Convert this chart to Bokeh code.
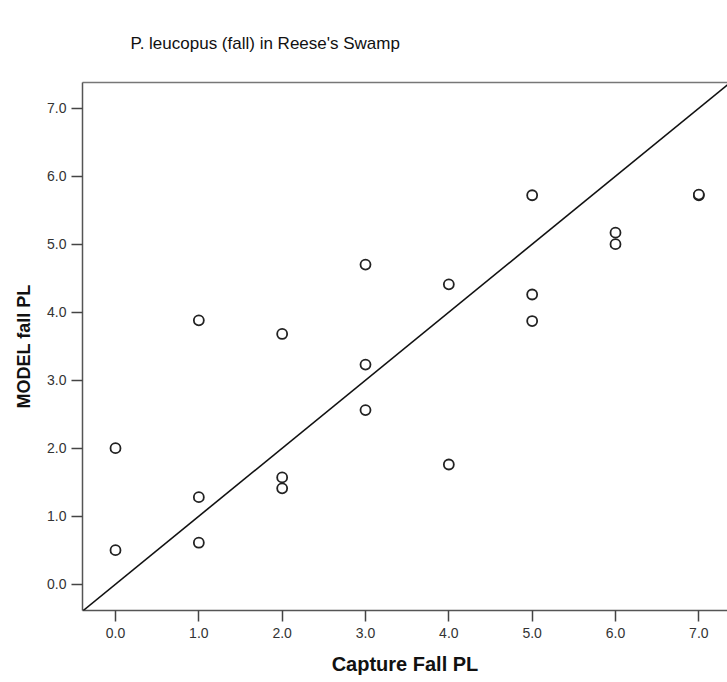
from bokeh.plotting import figure
from bokeh.models import (ColumnDataSource, FixedTicker, NumeralTickFormatter,
                          LinearAxis, Slope, Range1d, Title)
from bokeh.embed import file_html
from bokeh.resources import INLINE

# Data
capture_fall_pl = [0, 0, 1, 1, 1, 2, 2, 2, 3, 3, 3, 4, 4, 5, 5, 5, 6, 6, 7, 7]
model_fall_pl = [2.00, 0.50, 3.88, 1.28, 0.61, 3.68, 1.57, 1.41, 4.70, 3.23,
                 2.56, 4.41, 1.76, 5.72, 4.26, 3.87, 5.17, 5.00, 5.72, 5.73]
tick_values = [0, 1, 2, 3, 4, 5, 6, 7]

title_text = "P. leucopus (fall) in Reese's Swamp"
x_label = "Capture Fall PL"
y_label = "MODEL fall PL"

FONT = "Liberation Sans"

p = figure(width=727, height=682, output_backend="svg", toolbar_location=None,
           x_range=Range1d(-0.396, 7.344), y_range=Range1d(-0.387, 7.378),
           min_border_left=82, min_border_right=0, min_border_top=82,
           min_border_bottom=72, background_fill_color="white",
           border_fill_color="white", outline_line_color=None)

p.title = Title(text=title_text, align="left", offset=48, standoff=60,
                text_font=FONT, text_font_size="17px", text_font_style="normal",
                text_color="#111111")

p.xgrid.visible = False
p.ygrid.visible = False

for ax in (p.xaxis[0], p.yaxis[0]):
    ax.ticker = FixedTicker(ticks=tick_values)
    ax.formatter = NumeralTickFormatter(format="0.0")
    ax.minor_tick_line_color = None
    ax.major_tick_in = 0
    ax.major_tick_out = 11
    ax.major_tick_line_color = "#444444"
    ax.major_tick_line_width = 1.5
    ax.axis_line_color = "#555555"
    ax.axis_line_width = 1.5
    ax.major_label_text_font = FONT
    ax.major_label_text_font_size = "14px"
    ax.major_label_text_color = "#333333"
    ax.axis_label_text_font = FONT
    ax.axis_label_text_font_style = "bold"
    ax.axis_label_text_color = "#111111"

p.xaxis[0].axis_label = x_label
p.xaxis[0].axis_label_text_font_size = "20px"
p.xaxis[0].axis_label_standoff = 12
p.xaxis[0].major_label_standoff = 6

p.yaxis[0].axis_label = y_label
p.yaxis[0].axis_label_text_font_size = "18px"
p.yaxis[0].axis_label_standoff = 10
p.yaxis[0].major_label_standoff = 5

# top border line
top = LinearAxis(ticker=FixedTicker(ticks=[]), axis_line_color="#777777",
                 axis_line_width=1.5, major_tick_line_color=None,
                 minor_tick_line_color=None)
p.add_layout(top, "above")

# reference line y = x
p.add_layout(Slope(gradient=1, y_intercept=0, line_color="#111111",
                   line_width=1.6))

src = ColumnDataSource(data=dict(x=capture_fall_pl, y=model_fall_pl))
p.scatter("x", "y", source=src, marker="circle", size=10,
          fill_color="white", line_color="#222222", line_width=1.8)

open("out.html", "w").write(file_html(p, INLINE))
